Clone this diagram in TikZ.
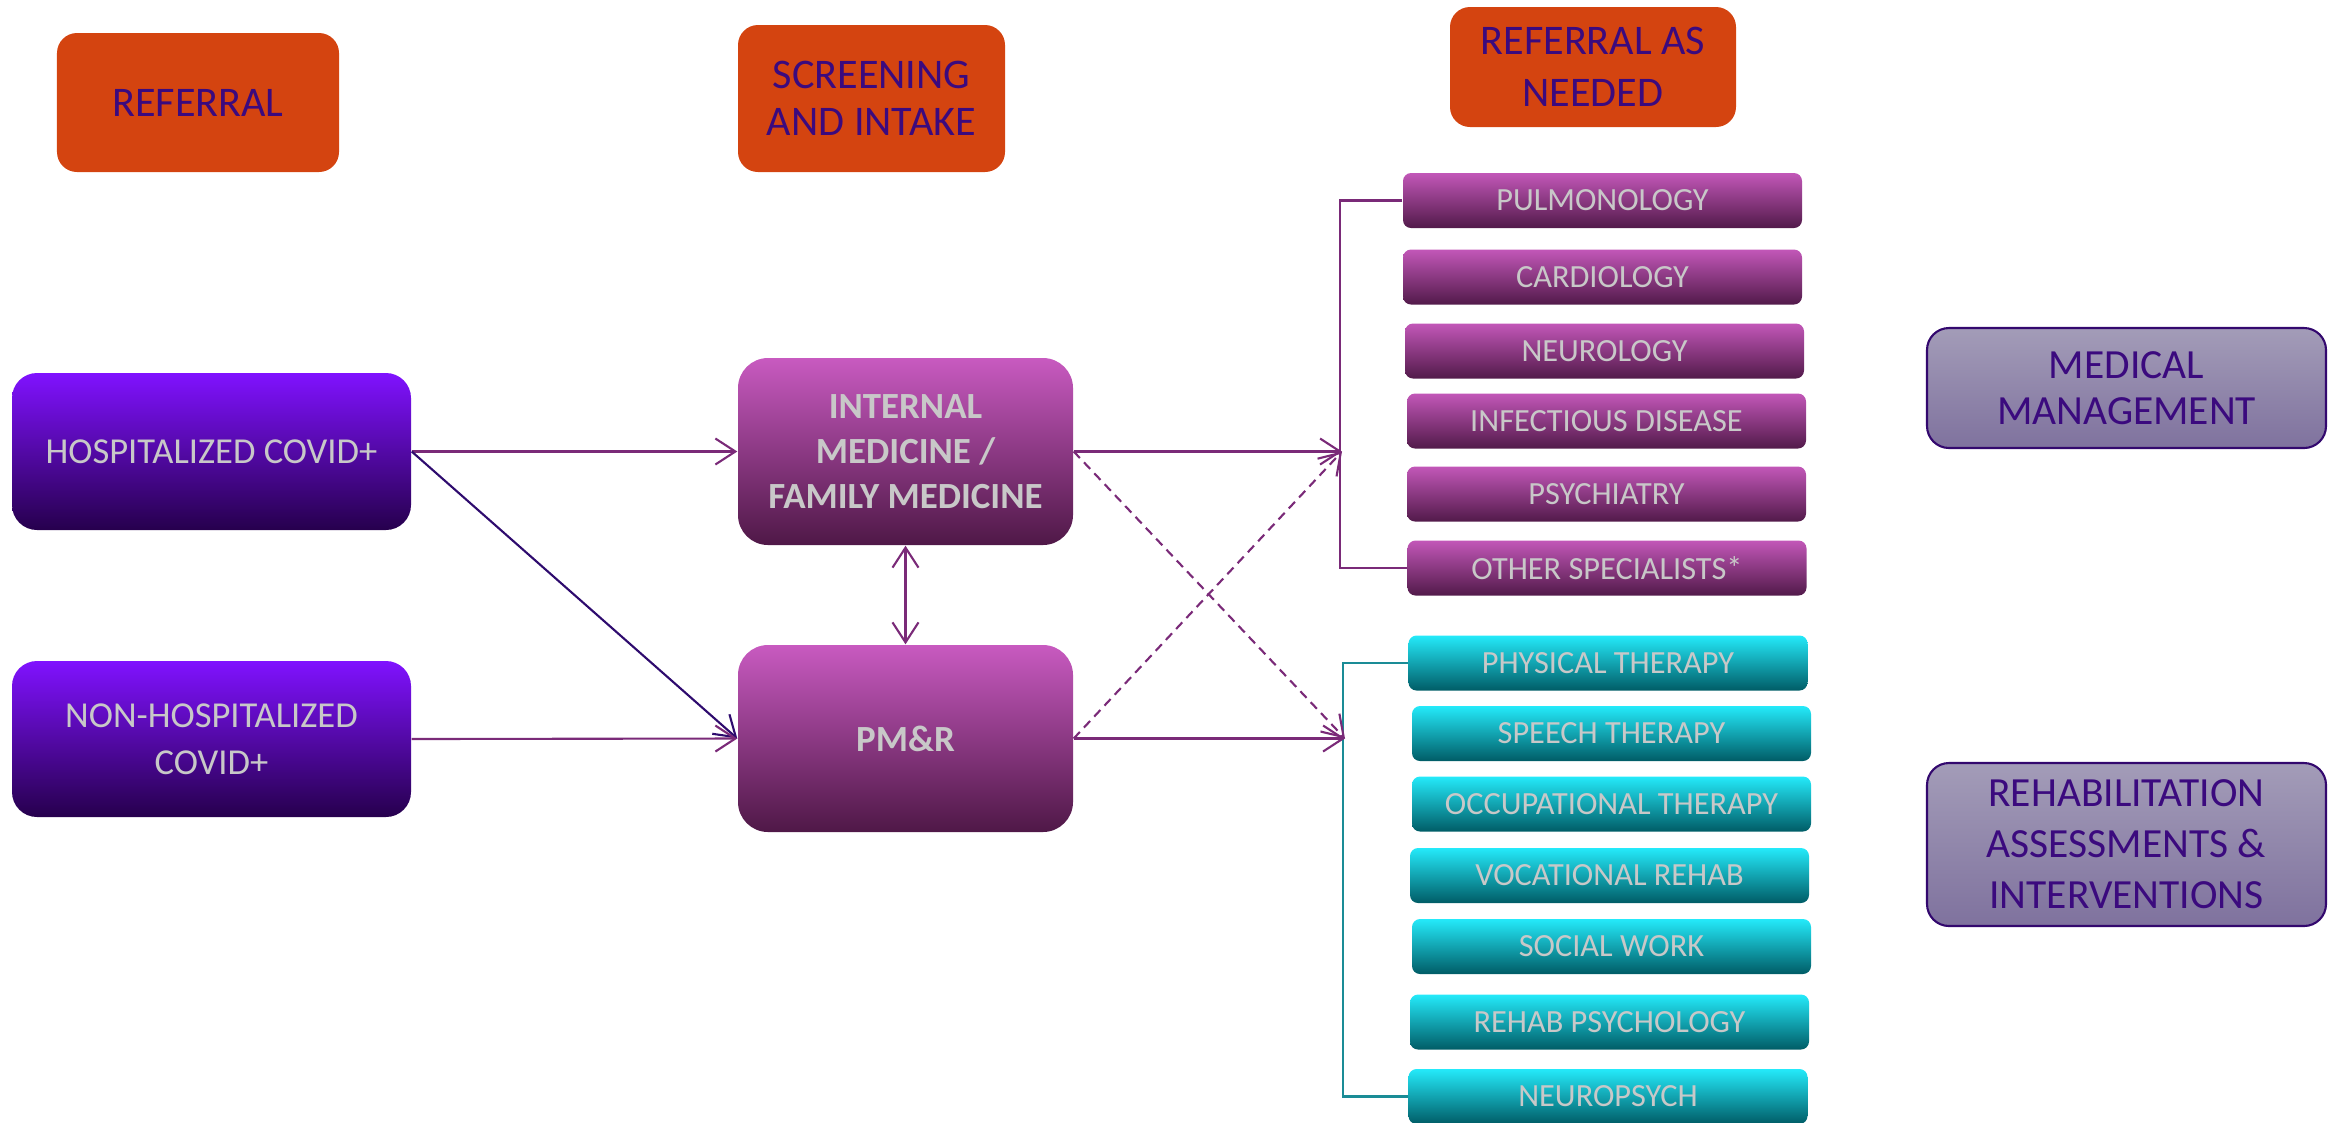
\documentclass[tikz,border=0pt]{standalone}
\usepackage{fontspec}
\setmainfont{Carlito}
\usetikzlibrary{arrows.meta}

\definecolor{hdrfill}{HTML}{D44410}
\definecolor{hdrtext}{HTML}{3B0A7E}
\definecolor{srctop}{HTML}{8012FF}
\definecolor{srcbot}{HTML}{26004D}
\definecolor{hubtop}{HTML}{C85AC0}
\definecolor{hubbot}{HTML}{4F1847}
\definecolor{spectop}{HTML}{C257B8}
\definecolor{specbot}{HTML}{521A4A}
\definecolor{rehtop}{HTML}{24EAFA}
\definecolor{rehbot}{HTML}{005C66}
\definecolor{grptop}{HTML}{A39CB8}
\definecolor{grpbot}{HTML}{7F729E}
\definecolor{grpline}{HTML}{33086E}
\definecolor{lighttext}{HTML}{C8C8C8}
\definecolor{linkcol}{HTML}{7A2A78}
\definecolor{diagcol}{HTML}{2E0B6E}
\definecolor{tealline}{HTML}{1A8C96}

\begin{document}
\begin{tikzpicture}[
            head/.style={rectangle, rounded corners=0.2cm, fill=hdrfill, text=hdrtext, align=center, inner sep=0pt, font=\fontsize{12}{13.5}\selectfont},
            source/.style={rectangle, rounded corners=0.25cm, top color=srctop, bottom color=srcbot, text=lighttext, align=center, inner sep=0pt, minimum width=3.99cm, font=\fontsize{10.4}{13.5}\selectfont},
            hub/.style={rectangle, rounded corners=0.3cm, top color=hubtop, bottom color=hubbot, text=lighttext, align=center, inner sep=0pt, minimum width=3.35cm, minimum height=1.87cm, font=\bfseries\fontsize{10.5}{12.9}\selectfont},
            spec/.style={rectangle, rounded corners=0.08cm, top color=spectop, bottom color=specbot, text=lighttext, inner sep=0pt, minimum width=3.99cm, minimum height=0.55cm, font=\fontsize{9.2}{11}\selectfont},
            therapy/.style={spec, top color=rehtop, bottom color=rehbot},
            group/.style={rectangle, rounded corners=0.22cm, draw=grpline, line width=0.6pt, top color=grptop, bottom color=grpbot, text=hdrtext, align=center, inner sep=0pt, minimum width=3.99cm, font=\fontsize{11.8}{14.5}\selectfont},
            arrow/.style={-{Straight Barb[length=0.2cm, width=0.26cm]}, line width=0.6pt, draw=linkcol},
            twoway/.style={{Straight Barb[length=0.2cm, width=0.26cm]}-{Straight Barb[length=0.2cm, width=0.26cm]}, line width=0.6pt, draw=linkcol},
            dasharrow/.style={arrow, dash pattern=on 0.09cm off 0.06cm},
            bracket/.style={line width=0.6pt, draw=linkcol}
        ]
            \useasboundingbox (0,0) rectangle (23.41,-11.22);

            % Headers
            \node[head, minimum width=2.82cm, minimum height=1.39cm] (h1) at (1.98,-1.025) {REFERRAL};
            \node[head, minimum width=2.67cm, minimum height=1.47cm] (h2) at (8.715,-0.985) {SCREENING\\AND INTAKE};
            \node[head, minimum width=2.86cm, minimum height=1.20cm, font=\fontsize{12}{14.8}\selectfont] (h3) at (15.93,-0.67) {REFERRAL AS\\NEEDED};

            % Sources
            \node[source, minimum height=1.57cm] (hosp) at (2.115,-4.515) {HOSPITALIZED COVID+};
            \node[source, minimum height=1.56cm] (nonhosp) at (2.115,-7.39) {NON-HOSPITALIZED\\COVID+};

            % Screening
            \node[hub] (im) at (9.055,-4.515) {INTERNAL\\MEDICINE /\\FAMILY MEDICINE};
            \node[hub] (pmr) at (9.055,-7.385) {PM\&R};

            % Specialists
            \node[spec] (s1) at (16.025,-2.005) {PULMONOLOGY};
            \node[spec] (s2) at (16.025,-2.77) {CARDIOLOGY};
            \node[spec] (s3) at (16.045,-3.51) {NEUROLOGY};
            \node[spec] (s4) at (16.065,-4.21) {INFECTIOUS DISEASE};
            \node[spec] (s5) at (16.065,-4.94) {PSYCHIATRY};
            \node[spec] (s6) at (16.07,-5.68) {OTHER SPECIALISTS*};

            % Rehab services
            \node[therapy] (r1) at (16.08,-6.63) {PHYSICAL THERAPY};
            \node[therapy] (r2) at (16.115,-7.335) {SPEECH THERAPY};
            \node[therapy] (r3) at (16.115,-8.04) {OCCUPATIONAL THERAPY};
            \node[therapy] (r4) at (16.095,-8.755) {VOCATIONAL REHAB};
            \node[therapy] (r5) at (16.115,-9.465) {SOCIAL WORK};
            \node[therapy] (r6) at (16.095,-10.22) {REHAB PSYCHOLOGY};
            \node[therapy] (r7) at (16.08,-10.965) {NEUROPSYCH};

            % Groups
            \node[group, minimum height=1.20cm, font=\fontsize{11.8}{13.2}\selectfont] (mm) at (21.265,-3.88) {MEDICAL\\MANAGEMENT};
            \node[group, minimum height=1.63cm] (ra) at (21.265,-8.445) {REHABILITATION\\ASSESSMENTS \&\\INTERVENTIONS};

            % Brackets
            \draw[bracket] (s1.west) -- ++(-0.62,0) |- (s6.west);
            \draw[bracket, draw=tealline] (r1.west) -- ++(-0.65,0) |- (r7.west);
            \coordinate (medin) at (13.42,-4.515);
            \coordinate (rehin) at (13.45,-7.385);

            % Arrows
            \draw[arrow] (hosp.east) -- (im.west);
            \draw[arrow, draw=diagcol] (hosp.east) -- (pmr.west);
            \draw[arrow] (nonhosp.east) -- (pmr.west);
            \draw[twoway] (im.south) -- (pmr.north);
            \draw[arrow] (im.east) -- (medin);
            \draw[arrow] (pmr.east) -- (rehin);
            \draw[dasharrow] (im.east) -- (rehin);
            \draw[dasharrow] (pmr.east) -- (medin);
        \end{tikzpicture}
\end{document}
